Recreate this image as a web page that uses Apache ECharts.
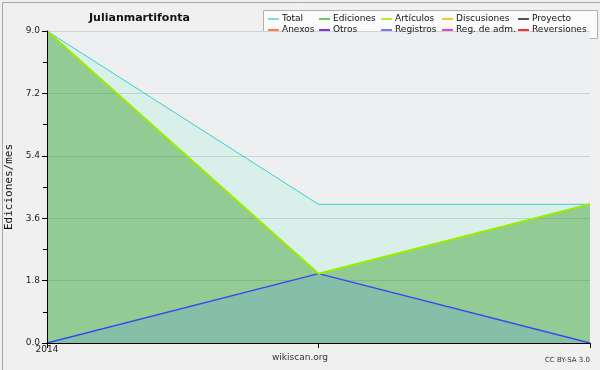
<!DOCTYPE html>
<html><head><meta charset="utf-8">
<script src="https://cdn.jsdelivr.net/npm/echarts@6/dist/echarts.min.js"></script>
<style>html,body{margin:0;padding:0;background:#f0f0f0}#c{width:600px;height:370px}</style>
</head><body><div id="c"></div>
<script>
var categories = ['2014', '2014-b', '2014-c'];
var xTickLabels = ['2014', '', ''];
var yTicks = [0, 1.8, 3.6, 5.4, 7.2, 9.0];
var total = [9, 4, 4];
var ediciones = [9, 2, 4];
var articulos = [9, 2, 4];
var registros = [0, 2, 0];
var legendCols = [['Total', 'Anexos'], ['Ediciones', 'Otros'], ['Artículos', 'Registros'], ['Discusiones', 'Reg. de adm.'], ['Proyecto', 'Reversiones']];
var legendColors = {'Total':'#7fdcdc','Ediciones':'#6cc86c','Artículos':'#b8ec30','Discusiones':'#f8c828','Proyecto':'#555555','Anexos':'#f88040','Otros':'#8030e0','Registros':'#7878ff','Reg. de adm.':'#e040e8','Reversiones':'#f83030'};

var chart = echarts.init(document.getElementById('c'), null, {renderer:'canvas'});
var F = 'DejaVu Sans';
var colX = [268, 319, 381, 442, 518];
var legends = legendCols.map(function(col, i){
  return {
    orient:'vertical', left: colX[i], top: 14, itemWidth: 11, itemHeight: 2, itemGap: 1,
    icon:'rect', selectedMode:false, padding:0,
    data: col.map(function(n){return {name:n, itemStyle:{color:legendColors[n]}};}),
    textStyle:{fontFamily:F, fontSize:9, color:'#111', padding:[1,0,0,-2], lineHeight:9}
  };
});
var series = [];
function mk(name, data, color, area, width, z){
  return {name:name, type:'line', data:data, symbol:'none', smooth:false, z:z,
    lineStyle:{color:color, width:width}, itemStyle:{color:legendColors[name]||color},
    areaStyle: area ? {color:area, opacity:1} : undefined};
}
series.push(mk('Total', total, '#38d0d0', '#d9f0ea', 1, 2));
series.push(mk('Ediciones', ediciones, '#6cc86c', '#93cb94', 1, 3));
series.push(mk('Artículos', articulos, '#99ee00', null, 2, 6));
var reg = mk('Registros', registros, '#3848f0', '#86bfa8', 1.3, 5);
reg.markLine = {silent:true, symbol:'none', label:{show:false}, animation:false,
  lineStyle:{color:'rgba(90,90,90,0.2)', type:'solid', width:1},
  data: yTicks.slice(1).map(function(v){return {yAxis:v};})};
series.push(reg);
['Discusiones','Proyecto','Anexos','Otros','Reg. de adm.','Reversiones'].forEach(function(n){
  series.push({name:n, type:'line', data:[], symbol:'none', itemStyle:{color:legendColors[n]}, lineStyle:{color:legendColors[n]}});
});

chart.setOption({
  animation:false,
  backgroundColor:'#f0f0f0',
  title:{text:'Julianmartifonta', left:84, top:8,
    textStyle:{fontFamily:F, fontSize:11, fontWeight:'bold', color:'#111'}},
  legend: legends,
  grid:{left:47, right:10, top:31, bottom:27, show:true, backgroundColor:'#eeeff1', borderWidth:0, containLabel:false, outerBoundsMode:'none'},
  xAxis:{type:'category', data:categories, boundaryGap:false, z:10,
    axisLine:{lineStyle:{color:'#000', width:1}},
    axisTick:{show:true, length:5, inside:false, lineStyle:{color:'#000'}},
    axisLabel:{formatter:function(v, i){return xTickLabels[i];}, fontFamily:F, fontSize:9, color:'#222', margin:2, align:'center', interval:0},
    splitLine:{show:false}},
  yAxis:{type:'value', min:0, max:9, interval:1.8, name:'Ediciones/mes', nameLocation:'middle', nameGap:30, z:10,
    nameTextStyle:{fontFamily:'DejaVu Sans Mono', fontSize:11, color:'#111'},
    axisLine:{show:true, lineStyle:{color:'#000'}},
    axisTick:{show:true, length:5, lineStyle:{color:'#000'}},
    minorTick:{show:true, splitNumber:2, length:4, lineStyle:{color:'#000'}},
    axisLabel:{formatter:function(v){return v.toFixed(1);}, fontFamily:F, fontSize:9, color:'#222', margin:7},
    splitLine:{show:false}},
  graphic:[
    {type:'rect', z:-1, left:0, top:0, shape:{x:0.5, y:0.5, width:599, height:369}, style:{fill:'none', stroke:'#a8a8a8', lineWidth:1}},
    {type:'rect', z:-1, left:263, top:10, shape:{width:334, height:28}, style:{fill:'#fbfbfb', stroke:'#b0b0b0', lineWidth:1}},
    {type:'text', left:'center', top:353, style:{text:'wikiscan.org', font:'9px "DejaVu Sans"', fill:'#333'}},
    {type:'text', right:10, top:357, style:{text:'CC BY-SA 3.0', font:'7px "DejaVu Sans"', fill:'#333'}}
  ],
  series: series
});
</script></body></html>
